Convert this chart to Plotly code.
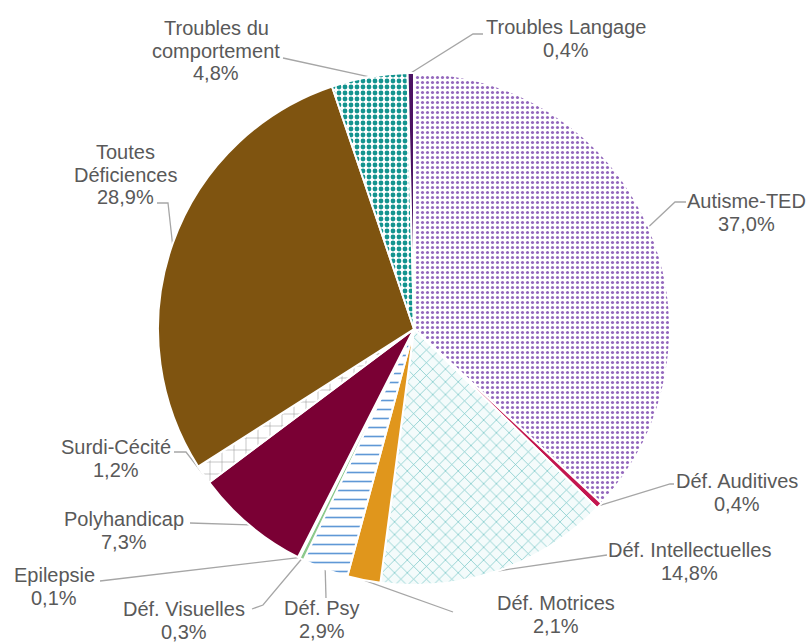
import math
import plotly.graph_objects as go

# ---------------- data ----------------
LABELS = ["Autisme-TED", "Déf. Auditives", "Déf. Intellectuelles", "Déf. Motrices",
          "Déf. Psy", "Déf. Visuelles", "Epilepsie", "Polyhandicap", "Surdi-Cécité",
          "Toutes Déficiences", "Troubles du comportement", "Troubles Langage"]
VALUES = [37.0, 0.4, 14.8, 2.1, 2.9, 0.3, 0.1, 7.3, 1.2, 28.9, 4.8, 0.4]
LABEL_LINES = {
    "Toutes Déficiences": ["Toutes", "Déficiences"],
    "Troubles du comportement": ["Troubles du", "comportement"],
}

# ---------------- styles ----------------
COLORS = ["#ffffff", "#c3164f", "#f4fbfb", "#e0961c", "#ffffff", "#8cc98c", "#7aa7d6",
          "#7a0034", "#ffffff", "#7f5410", "#ffffff", "#4c1463"]
PAT_SHAPE = [".", "", "x", "", "-", "", "", "", "+", "", ".", ""]
PAT_FG = ["#9468bd", "#c3164f", "#72c4c4", "#e0961c", "#5f98d6", "#8cc98c", "#7aa7d6",
          "#7a0034", "#8c8c8c", "#7f5410", "#14948f", "#4c1463"]
PAT_BG = ["#ffffff", "#c3164f", "#f4fbfb", "#e0961c", "#ffffff", "#8cc98c", "#7aa7d6",
          "#7a0034", "#ffffff", "#7f5410", "#ffffff", "#4c1463"]
PAT_SIZE = [5, 8, 9, 8, 9, 8, 8, 8, 12, 8, 6, 8]
PAT_SOL = [0.3, 0.3, 0.15, 0.3, 0.18, 0.3, 0.3, 0.3, 0.08, 0.3, 0.5, 0.3]

W, H = 808, 644
PIE_CX, PIE_CY, PIE_R = 414, 329, 256
TEXT_COLOR = "#595959"
LINE_COLOR = "#a6a6a6"
FONT = "Liberation Sans, Arial, sans-serif"
FONT_SIZE = 20
LINE_GAP = 22.5

# label layout: text centre x, first text line y, leader path points after slice anchor
LABEL_LAYOUT = {
    "Autisme-TED": (746, 201, [(675, 202), (686, 202)]),
    "Déf. Auditives": (737, 481, [(670, 484), (674, 484)]),
    "Déf. Intellectuelles": (689, 550, [(603, 555), (607, 555)]),
    "Déf. Motrices": (556, 603, [(453, 612)]),
    "Déf. Psy": (322, 608, [(326, 598)]),
    "Déf. Visuelles": (184, 609, [(263, 605), (252, 609)]),
    "Epilepsie": (54, 575, [(100, 581)]),
    "Polyhandicap": (124, 519, [(190, 523)]),
    "Surdi-Cécité": (116, 447, [(186, 452), (174, 452)]),
    "Toutes Déficiences": (125, 152, [(168, 203), (157, 203)]),
    "Troubles du comportement": (216, 28, [(283, 58)]),
    "Troubles Langage": (566, 27, [(473, 34), (483, 34)]),
}

fig = go.Figure()

fig.add_trace(go.Pie(
    labels=LABELS, values=VALUES, sort=False, direction="clockwise", rotation=0,
    textinfo="none", hoverinfo="label+percent", showlegend=False,
    domain=dict(x=[(PIE_CX - PIE_R) / W, (PIE_CX + PIE_R) / W],
                y=[(H - PIE_CY - PIE_R) / H, (H - PIE_CY + PIE_R) / H]),
    marker=dict(colors=COLORS, line=dict(color="#ffffff", width=2),
                pattern=dict(shape=PAT_SHAPE, fgcolor=PAT_FG, bgcolor=PAT_BG,
                             size=PAT_SIZE, solidity=PAT_SOL, fillmode="replace")),
))

total = sum(VALUES)
cum = 0.0
annotations = []
for lab, v in zip(LABELS, VALUES):
    mid = (cum + v / 2) / total * 2 * math.pi
    cum += v
    sx = PIE_CX + PIE_R * math.sin(mid)
    sy = PIE_CY - PIE_R * math.cos(mid)
    cx, y0, path = LABEL_LAYOUT[lab]
    xs = [sx] + [p[0] for p in path]
    ys = [sy] + [p[1] for p in path]
    fig.add_trace(go.Scatter(x=xs, y=ys, mode="lines", hoverinfo="skip", showlegend=False,
                             line=dict(color=LINE_COLOR, width=1.3)))
    lines = LABEL_LINES.get(lab, [lab]) + [f"{v:.1f}".replace(".", ",") + "%"]
    for i, t in enumerate(lines):
        annotations.append(dict(x=cx, y=y0 + i * LINE_GAP, xref="x", yref="y", text=t,
                                showarrow=False, xanchor="center", yanchor="middle",
                                font=dict(family=FONT, size=FONT_SIZE, color=TEXT_COLOR)))

fig.update_layout(
    width=W, height=H, margin=dict(l=0, r=0, t=0, b=0),
    paper_bgcolor="#ffffff", plot_bgcolor="rgba(0,0,0,0)",
    xaxis=dict(range=[0, W], visible=False, domain=[0, 1], fixedrange=True),
    yaxis=dict(range=[H, 0], visible=False, domain=[0, 1], fixedrange=True),
    annotations=annotations,
)

fig.write_html("out.html")
